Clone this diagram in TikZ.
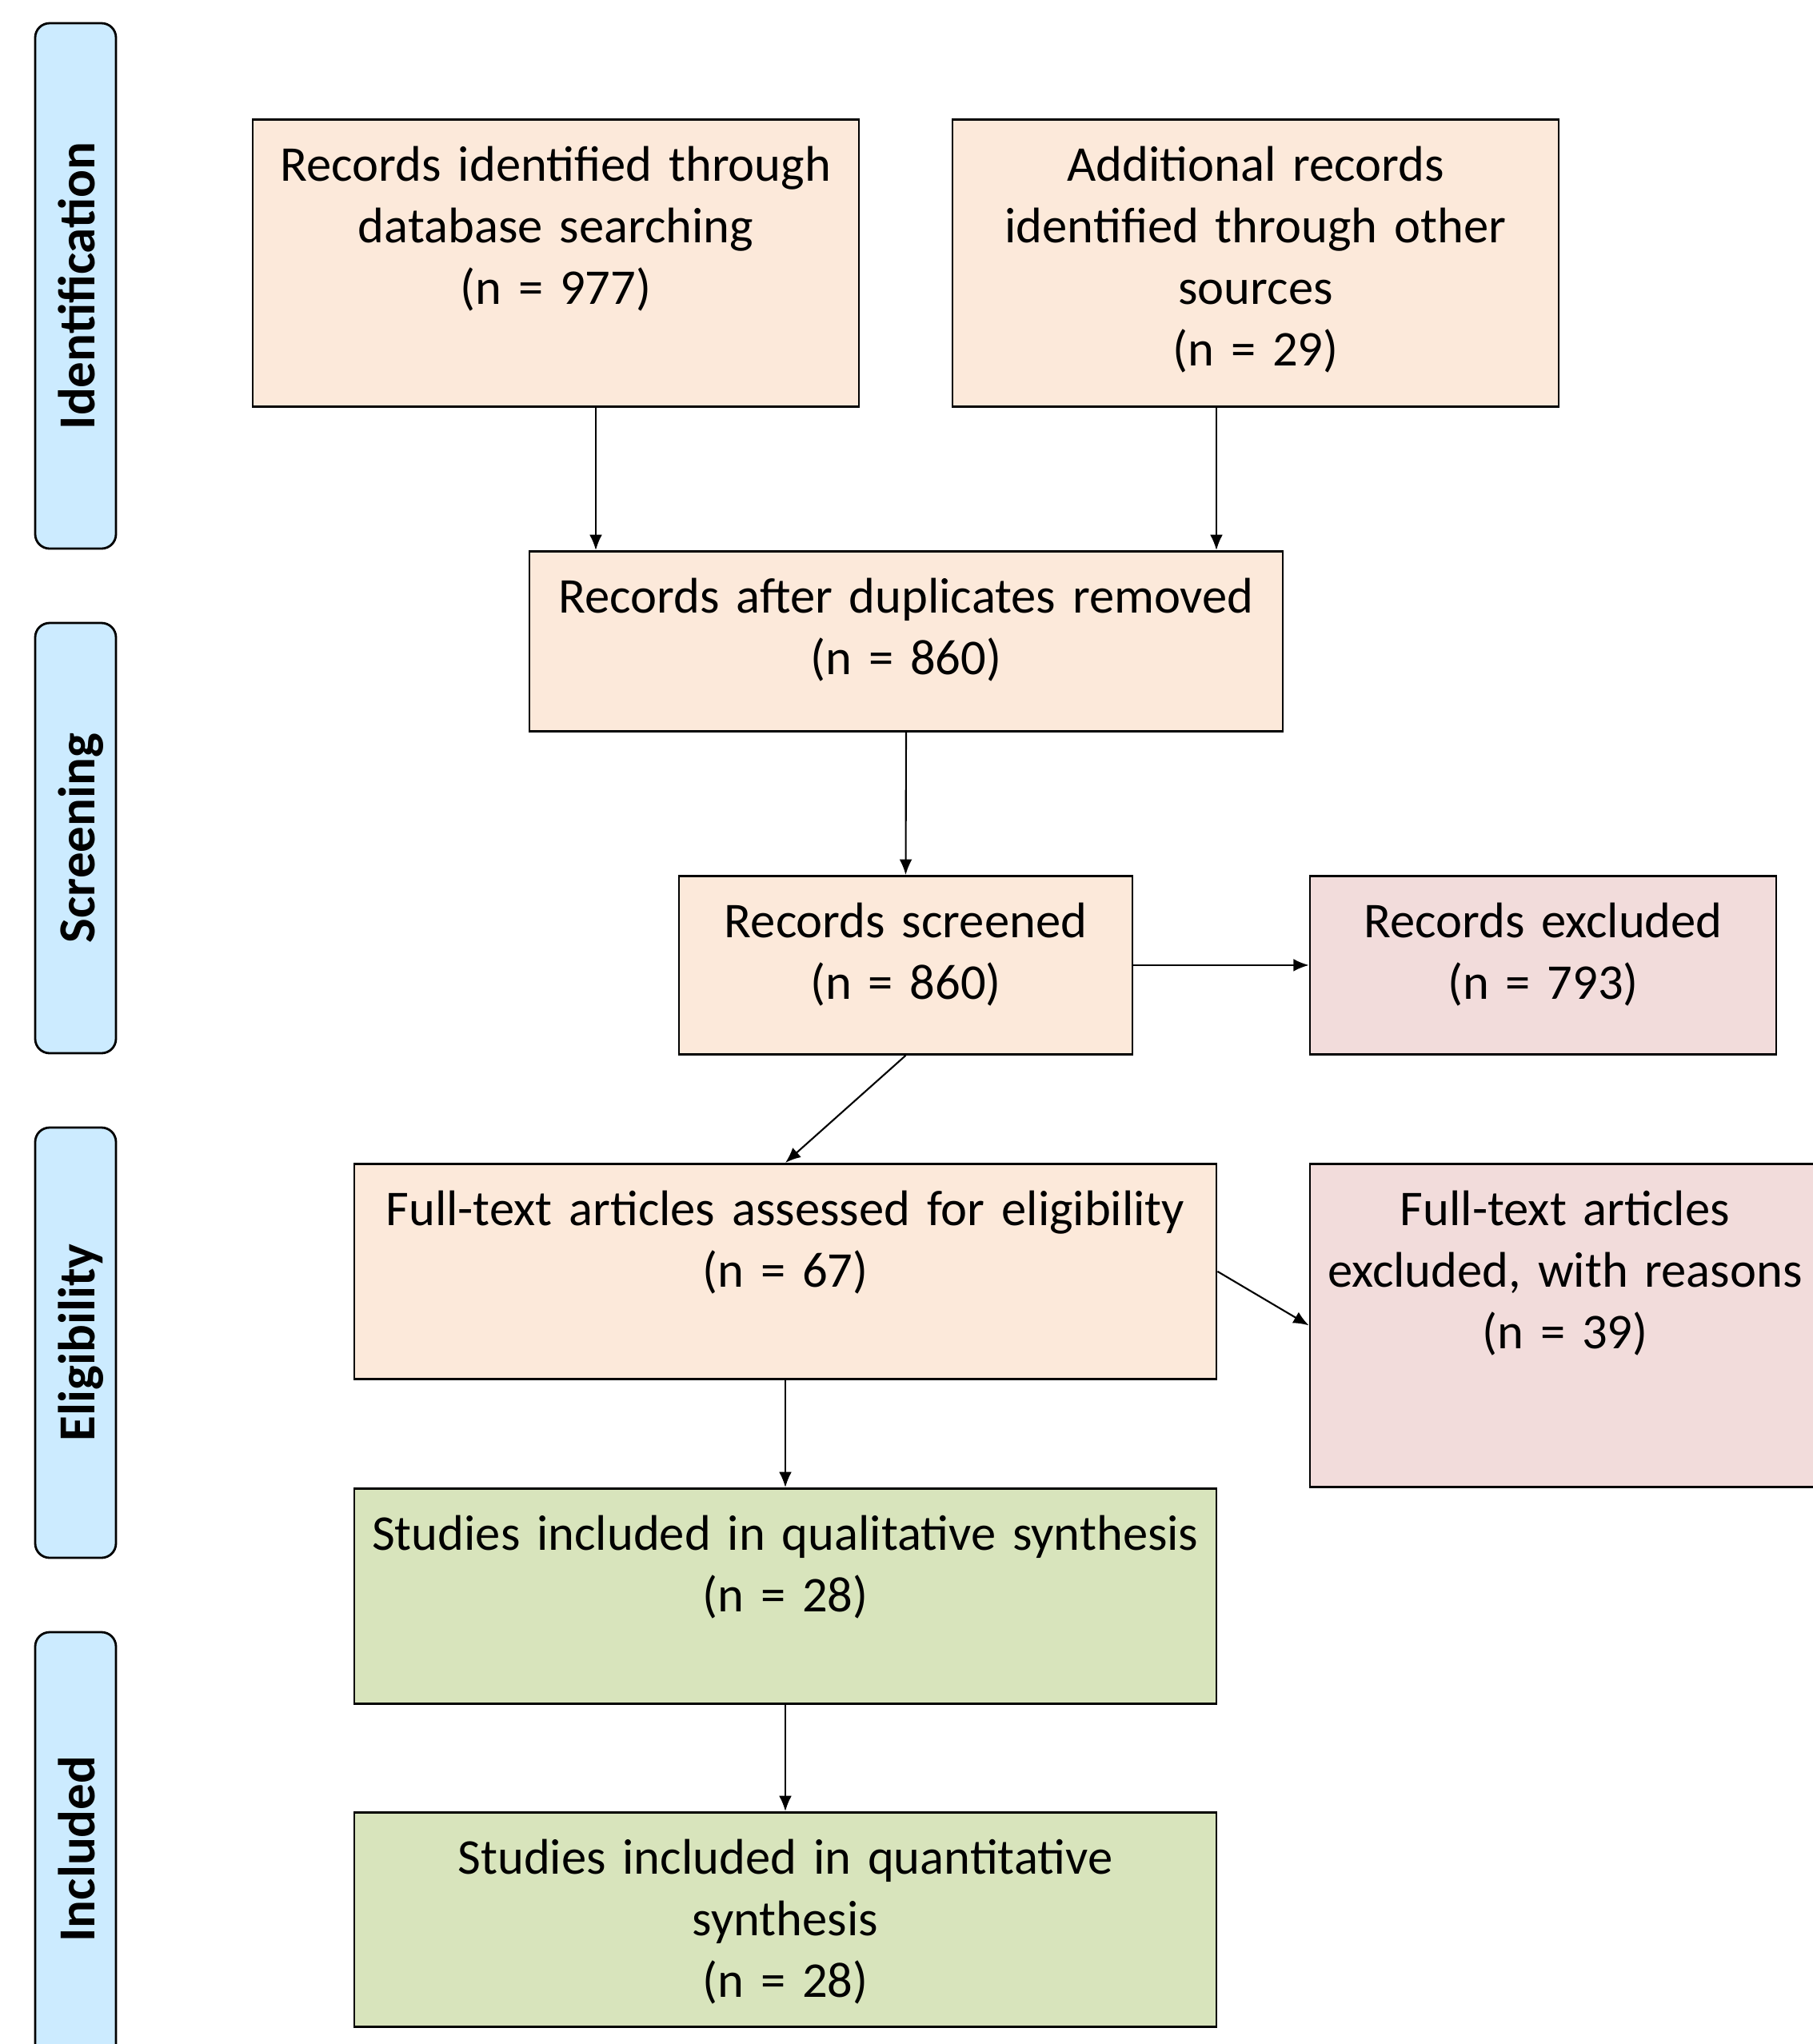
\documentclass[tikz,border=0pt]{standalone}
\usepackage{fontspec}
\setmainfont{Carlito}
\usepackage{tikz}
\usetikzlibrary{arrows.meta}
\tikzset{>={Latex[length=5.5pt,width=4.5pt]}}
\definecolor{peach}{HTML}{FCE9DA}
\definecolor{rose}{HTML}{F2DCDB}
\definecolor{olive}{HTML}{D8E4BC}
\definecolor{sky}{HTML}{CCEBFF}
\tikzset{
	rec/.style={draw, line width=0.8pt, anchor=north, align=center, inner xsep=0pt, inner ysep=0pt,
		minimum width=#1, text width=#1, text height=0.77cm, font=\fontsize{17.8}{21.9}\selectfont},
	phase/.style={draw, line width=0.8pt, fill=sky, rounded corners=0.18cm, rotate=90, inner sep=0pt,
		minimum height=1.01cm, text height=13.9pt, text depth=0pt, font=\fontsize{18.5}{20}\selectfont\bfseries}
}

\begin{document}
\begin{tikzpicture}
	\useasboundingbox (0,0) rectangle (22.67,-25.56);
	\clip (0,0) rectangle (22.67,-25.56);

	\node[phase, minimum width=6.57cm] (ident) at (0.945,-3.575) {Identification};
	\node[phase, minimum width=5.38cm] (screen) at (0.945,-10.48) {Screening};
	\node[phase, minimum width=5.38cm] (elig) at (0.945,-16.79) {Eligibility};
	\node[phase, minimum width=5.42cm] (incl) at (0.945,-23.12) {Included};

	\node[rec=7.58cm, fill=peach, text depth=2.82cm] (db) at (6.95,-1.48)
		{Records identified through\\database searching\\(n = 977)};
	\node[rec=7.58cm, fill=peach, text depth=2.82cm] (other) at (15.70,-1.48)
		{Additional records\\identified through other\\sources\\(n = 29)};
	\node[rec=9.42cm, fill=peach, text depth=1.48cm] (dup) at (11.33,-6.88)
		{Records after duplicates removed\\(n = 860)};
	\node[rec=5.67cm, fill=peach, text depth=1.46cm] (scr) at (11.325,-10.94)
		{Records screened\\(n = 860)};
	\node[rec=5.83cm, fill=rose, text depth=1.46cm] (exc) at (19.295,-10.94)
		{Records excluded\\(n = 793)};
	\node[rec=10.78cm, fill=peach, text depth=1.92cm] (full) at (9.82,-14.54)
		{Full-text articles assessed for eligibility\\(n = 67)};
	\node[rec=6.38cm, fill=rose, text depth=3.27cm] (fullexc) at (19.57,-14.54)
		{Full-text articles\\excluded, with reasons\\(n = 39)};
	\node[rec=10.78cm, fill=olive, text depth=1.92cm] (qual) at (9.82,-18.60)
		{Studies included in qualitative synthesis\\(n = 28)};
	\node[rec=10.78cm, fill=olive, text depth=1.91cm] (quant) at (9.82,-22.65)
		{Studies included in quantitative\\synthesis\\(n = 28)};

	\draw[->, line width=0.6pt] ([xshift=0.5cm]db.south) -- ([xshift=0.5cm]db.south |- dup.north);
	\draw[->, line width=0.6pt] ([xshift=-0.49cm]other.south) -- ([xshift=-0.49cm]other.south |- dup.north);
	\draw[->, line width=0.6pt] (dup.south) -- (scr.north);
	\draw[->, line width=0.6pt] (scr.east) -- (exc.west);
	\draw[->, line width=0.6pt] (scr.south) -- (full.north);
	\draw[->, line width=0.6pt] (full.east) -- (fullexc.west);
	\draw[->, line width=0.6pt] (full.south) -- (qual.north);
	\draw[->, line width=0.6pt] (qual.south) -- (quant.north);

\end{tikzpicture}
\end{document}
